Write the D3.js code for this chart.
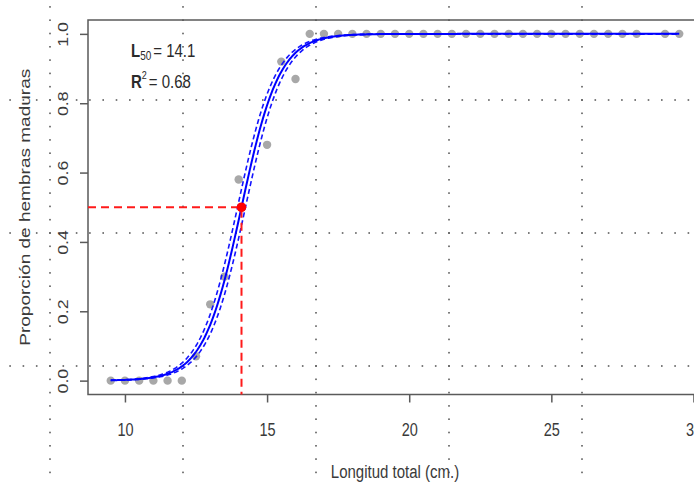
<!DOCTYPE html>
<html>
<head>
<meta charset="utf-8">
<script src="https://cdn.jsdelivr.net/npm/d3@7/dist/d3.min.js"></script>
<style>
  html, body { margin: 0; padding: 0; background: #fff; }
  svg { display: block; font-family: "Liberation Sans", Arial, sans-serif; }
</style>
</head>
<body>
<svg id="chart" width="694" height="483"></svg>
<script>
// Observed proportion of mature females by total length class (cm)
const lengthsCm = [9.5, 10, 10.5, 11, 11.5, 12, 12.5, 13, 13.5, 14, 15, 15.5, 16, 16.5,
  17, 17.5, 18, 18.5, 19, 19.5, 20, 20.5, 21, 21.5, 22, 22.5, 23, 23.5, 24, 24.5,
  25, 25.5, 26, 26.5, 27, 27.5, 28, 29, 29.5];
const propMature = [0, 0, 0, 0, 0, 0, 0.07, 0.22, 0.30, 0.58, 0.68, 0.92, 0.87, 1,
  1, 1, 1, 1, 1, 1, 1, 1, 1, 1, 1, 1, 1, 1, 1, 1,
  1, 1, 1, 1, 1, 1, 1, 1, 1];

// Logistic maturity ogive: P = 1 / (1 + exp(-slope * (L - L50)))
const L50 = 14.1;
const R2 = 0.68;
const slope = 1.5;
const L50ci = [13.96, 14.24];        // lower / upper confidence curves
const lengthRange = [9.5, 29.5];

const xTicks = [10, 15, 20, 25, 30];
const yTicks = [0, 0.2, 0.4, 0.6, 0.8, 1.0];
const xTitle = "Longitud total (cm.)";
const yTitle = "Proporción de hembras maduras";

const W = 694, H = 483;
const SY = 1.27; // vertical stretch of the lettering

const svg = d3.select("#chart");
const x = d3.scaleLinear().domain([8.7, 30.3]).range([88, 702]);
const y = d3.scaleLinear().domain([-0.04, 1.04]).range([394.5, 20]);

// Dotted background grid
const gridG = svg.append("g").attr("fill", "#5c5c5c");
const gx = [50, 183, 316, 449, 582], gy = [100, 233, 366], step = 13.3;
gx.forEach(cx => {
  d3.range(-8, 30).map(k => 100 + k * step).filter(v => v > 0 && v < H)
    .forEach(v => gridG.append("rect").attr("x", cx - 0.8).attr("y", v - 0.8).attr("width", 1.6).attr("height", 1.6));
});
gy.forEach(cy => {
  d3.range(-4, 50).map(k => 50 + k * step).filter(v => v > 0 && v < W)
    .forEach(v => gridG.append("rect").attr("x", v - 0.8).attr("y", cy - 0.8).attr("width", 1.6).attr("height", 1.6));
});

// Plot box
svg.append("rect")
  .attr("x", x.range()[0]).attr("y", y.range()[1])
  .attr("width", x.range()[1] - x.range()[0])
  .attr("height", y.range()[0] - y.range()[1])
  .attr("fill", "none").attr("stroke", "#5a5a5a").attr("stroke-width", 1.5);

// X axis
const xAxis = svg.append("g")
  .attr("transform", `translate(0,${y.range()[0]})`)
  .call(d3.axisBottom(x).tickValues(xTicks).tickSize(8).tickSizeOuter(0).tickFormat(d3.format("d")));
xAxis.select(".domain").remove();
xAxis.selectAll(".tick line").attr("stroke", "#5a5a5a").attr("stroke-width", 1.5);
xAxis.selectAll(".tick text")
  .attr("y", 0).attr("dy", null)
  .attr("transform", `translate(0,41) scale(1,${SY})`)
  .attr("font-size", 14.5).attr("fill", "#3a3a3a")
  .attr("font-family", "Liberation Sans, Arial, sans-serif");

// Y axis
const yAxis = svg.append("g")
  .attr("transform", `translate(${x.range()[0]},0)`)
  .call(d3.axisLeft(y).tickValues(yTicks).tickSize(8).tickSizeOuter(0).tickFormat(d3.format(".1f")));
yAxis.select(".domain").remove();
yAxis.selectAll(".tick line").attr("stroke", "#5a5a5a").attr("stroke-width", 1.5);
yAxis.selectAll(".tick text")
  .attr("x", 0).attr("dy", null)
  .attr("text-anchor", "middle")
  .attr("transform", `translate(-20,0) rotate(-90) scale(${SY},1)`)
  .attr("font-size", 14).attr("fill", "#3a3a3a")
  .attr("font-family", "Liberation Sans, Arial, sans-serif");

// Axis titles
const midX = (x.range()[0] + x.range()[1]) / 2;
const midY = (y.range()[0] + y.range()[1]) / 2;
svg.append("text")
  .attr("transform", `translate(${midX},478) scale(1,${SY})`)
  .attr("text-anchor", "middle").attr("font-size", 15).attr("fill", "#3a3a3a")
  .text(xTitle);
svg.append("text")
  .attr("transform", `translate(30,${midY}) rotate(-90) scale(${SY},1)`)
  .attr("text-anchor", "middle").attr("font-size", 15).attr("fill", "#3a3a3a")
  .text(yTitle);

// Observed proportions
svg.append("g").selectAll("circle")
  .data(lengthsCm.map((L, i) => [L, propMature[i]]))
  .join("circle")
  .attr("cx", d => x(d[0])).attr("cy", d => y(d[1])).attr("r", 4.2)
  .attr("fill", "#a8a8a8");

// Fitted ogive and confidence curves
const ogive = (L, l50) => 1 / (1 + Math.exp(-slope * (L - l50)));
const grid = d3.range(lengthRange[0], lengthRange[1] + 1e-9, 0.05);
const line = d3.line().x(d => x(d[0])).y(d => y(d[1]));

L50ci.forEach(l50 => {
  svg.append("path")
    .attr("d", line(grid.map(L => [L, ogive(L, l50)])))
    .attr("fill", "none").attr("stroke", "#1414ff").attr("stroke-width", 1.6)
    .attr("stroke-dasharray", "5,3");
});
svg.append("path")
  .attr("d", line(grid.map(L => [L, ogive(L, L50)])))
  .attr("fill", "none").attr("stroke", "#0000ff").attr("stroke-width", 2);

// L50 reference lines and point
svg.append("path")
  .attr("d", `M${x.range()[0]},${y(0.5)}H${x(L50)}V${y.range()[0]}`)
  .attr("fill", "none").attr("stroke", "#ff1a1a").attr("stroke-width", 2)
  .attr("stroke-dasharray", "8,5");
svg.append("circle")
  .attr("cx", x(L50)).attr("cy", y(0.5)).attr("r", 4.8).attr("fill", "#ff0000");

// Annotation
const ann1 = svg.append("text")
  .attr("transform", `translate(131,57) scale(1,${SY})`)
  .attr("font-size", 15).attr("fill", "#2a2a2a");
ann1.append("tspan").attr("font-weight", "bold").text("L");
ann1.append("tspan").attr("font-size", 10).attr("dy", 2).text("50");
ann1.append("tspan").attr("dy", -2).attr("dx", 2).text("= " + L50.toFixed(1));

const ann2 = svg.append("text")
  .attr("transform", `translate(131,88) scale(1,${SY})`)
  .attr("font-size", 15).attr("fill", "#2a2a2a");
ann2.append("tspan").attr("font-weight", "bold").text("R");
ann2.append("tspan").attr("font-size", 9).attr("dy", -7).text("2");
ann2.append("tspan").attr("dy", 7).attr("dx", 2).text("= " + R2.toFixed(2));
</script>
</body>
</html>
